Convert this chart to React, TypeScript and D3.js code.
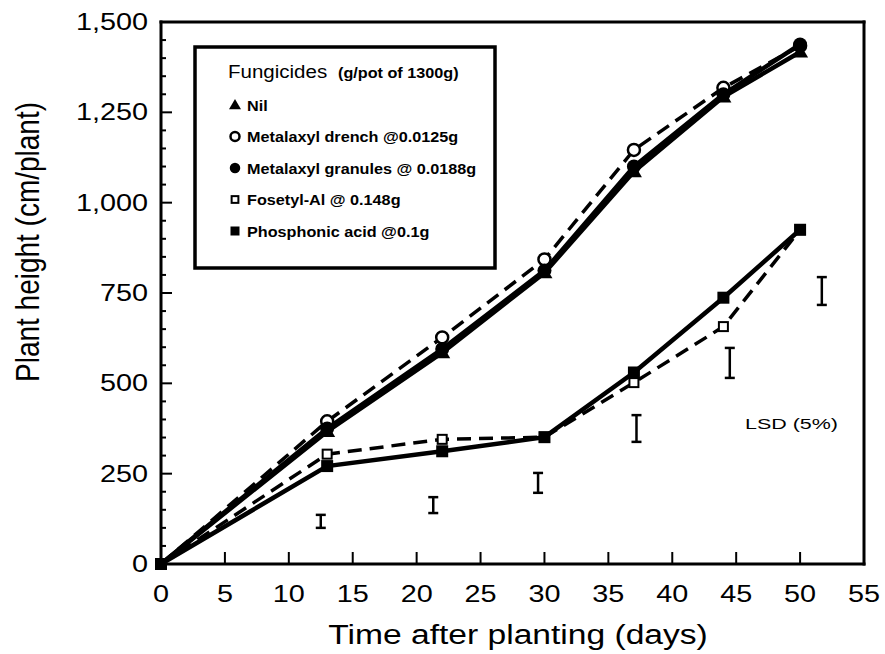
import React, { useRef, useEffect } from "react";
import * as d3 from "d3";

const WIDTH = 885;
const HEIGHT = 654;

const days = [0, 13, 22, 30, 37, 44, 50];
const nil = [0, 367, 585, 806, 1086, 1293, 1417];
const drench = [0, 395, 627, 843, 1146, 1318, 1434];
const granules = [0, 375, 595, 812, 1100, 1300, 1438];
const fosetyl = [0, 304, 345, 351, 502, 657, 925];
const phosphonic = [0, 271, 312, 351, 530, 737, 925];

const lsdDays = [12.5, 21.3, 29.5, 37.2, 44.5, 51.7];
const lsdLow = [100, 141, 197, 338, 515, 717];
const lsdHigh = [136, 185, 252, 412, 598, 794];

const xTicks = [0, 5, 10, 15, 20, 25, 30, 35, 40, 45, 50, 55];
const yTicks = [0, 250, 500, 750, 1000, 1250, 1500];

const series = [
  { name: "Nil", values: nil, dashed: false, marker: "triangle" },
  { name: "Metalaxyl drench @0.0125g", values: drench, dashed: true, marker: "openCircle" },
  { name: "Metalaxyl granules @ 0.0188g", values: granules, dashed: false, marker: "circle" },
  { name: "Fosetyl-Al @ 0.148g", values: fosetyl, dashed: true, marker: "openSquare" },
  { name: "Phosphonic acid @0.1g", values: phosphonic, dashed: false, marker: "square" },
];

const FONT = "'Liberation Sans', Arial, Helvetica, sans-serif";
// the scanned figure is a bit stretched sideways
const SX = 1.2;
const LSX = 1.08;

function drawMarker(g, type, x, y, scale = 1) {
  if (type === "triangle") {
    const s = 8 * scale;
    g.append("path")
      .attr("d", `M${x},${y - s}L${x + s},${y + s * 0.7}L${x - s},${y + s * 0.7}Z`)
      .attr("fill", "#000");
  } else if (type === "openCircle") {
    g.append("circle").attr("cx", x).attr("cy", y).attr("r", 6 * scale)
      .attr("fill", "#fff").attr("stroke", "#000").attr("stroke-width", 2.5);
  } else if (type === "circle") {
    g.append("circle").attr("cx", x).attr("cy", y).attr("r", 7 * scale).attr("fill", "#000");
  } else if (type === "openSquare") {
    const s = 4.5 * scale;
    g.append("rect").attr("x", x - s).attr("y", y - s).attr("width", 2 * s).attr("height", 2 * s)
      .attr("fill", "#fff").attr("stroke", "#000").attr("stroke-width", 2);
  } else {
    const s = 6 * scale;
    g.append("rect").attr("x", x - s).attr("y", y - s).attr("width", 2 * s).attr("height", 2 * s)
      .attr("fill", "#000");
  }
}

function Chart() {
  const svgRef = useRef(null);

  useEffect(() => {
    const svg = d3.select(svgRef.current);
    svg.selectAll("*").remove();

    const x = d3.scaleLinear().domain([0, 55]).range([161, 864]);
    const y = d3.scaleLinear().domain([0, 1500]).range([564, 22]);

    svg.append("rect").attr("width", WIDTH).attr("height", HEIGHT).attr("fill", "#fff");

    // x ticks (inside)
    svg.selectAll(".xt").data(xTicks).enter().append("line")
      .attr("x1", d => x(d)).attr("x2", d => x(d))
      .attr("y1", y(0)).attr("y2", y(0) - 12)
      .attr("stroke", "#000").attr("stroke-width", 2);
    svg.selectAll(".xl").data(xTicks).enter().append("text")
      .attr("transform", d => `translate(${x(d)},602) scale(${SX},1)`)
      .attr("text-anchor", "middle")
      .attr("font-family", FONT).attr("font-size", 24)
      .text(d => d);

    // y ticks: minor every 50, major every 250
    const yMinor = d3.range(0, 1501, 50);
    svg.selectAll(".yt").data(yMinor).enter().append("line")
      .attr("x1", x(0)).attr("x2", d => x(0) + (d % 250 === 0 ? 11 : 5))
      .attr("y1", d => y(d)).attr("y2", d => y(d))
      .attr("stroke", "#000").attr("stroke-width", 2);
    svg.selectAll(".yl").data(yTicks).enter().append("text")
      .attr("transform", d => `translate(148,${y(d) + 8}) scale(${SX},1)`)
      .attr("text-anchor", "end")
      .attr("font-family", FONT).attr("font-size", 24)
      .text(d => d3.format(",")(d));

    // axis titles
    svg.append("text")
      .attr("transform", `translate(518,644) scale(${SX},1)`)
      .attr("text-anchor", "middle")
      .attr("font-family", FONT).attr("font-size", 28)
      .text("Time after planting (days)");
    svg.append("text")
      .attr("transform", `translate(39,242) scale(${SX},1) rotate(-90)`)
      .attr("text-anchor", "middle")
      .attr("font-family", FONT).attr("font-size", 28)
      .text("Plant height (cm/plant)");

    // lines
    const line = d3.line().x((d, i) => x(days[i])).y(d => y(d));
    series.forEach(s => {
      svg.append("path")
        .attr("d", line(s.values))
        .attr("fill", "none")
        .attr("stroke", "#000")
        .attr("stroke-width", s.dashed ? 3.5 : 4.5)
        .attr("stroke-dasharray", s.dashed ? "14,8" : null);
    });
    const mg = svg.append("g");
    series.forEach(s => {
      s.values.forEach((v, i) => {
        if (i === 0) return;
        drawMarker(mg, s.marker, x(days[i]), y(v));
      });
    });
    mg.append("rect").attr("x", x(0) - 6).attr("y", y(0) - 6).attr("width", 12).attr("height", 12).attr("fill", "#000");

    // LSD bars
    lsdDays.forEach((d, i) => {
      const cx = x(d);
      const g = svg.append("g").attr("stroke", "#000").attr("stroke-width", 2.5);
      g.append("line").attr("x1", cx).attr("x2", cx).attr("y1", y(lsdLow[i])).attr("y2", y(lsdHigh[i]));
      g.append("line").attr("x1", cx - 5).attr("x2", cx + 5).attr("y1", y(lsdLow[i])).attr("y2", y(lsdLow[i]));
      g.append("line").attr("x1", cx - 5).attr("x2", cx + 5).attr("y1", y(lsdHigh[i])).attr("y2", y(lsdHigh[i]));
    });
    svg.append("text")
      .attr("x", 745).attr("y", 429)
      .attr("font-family", FONT).attr("font-size", 15)
      .attr("textLength", 93).attr("lengthAdjust", "spacingAndGlyphs")
      .text("LSD (5%)");

    // legend
    const lg = svg.append("g");
    lg.append("rect")
      .attr("x", 195).attr("y", 47).attr("width", 300).attr("height", 221)
      .attr("fill", "#fff").attr("stroke", "#000").attr("stroke-width", 3.5);
    const title = lg.append("text")
      .attr("transform", `translate(228,78) scale(${LSX},1)`)
      .attr("font-family", FONT);
    title.append("tspan").attr("font-size", 19).text("Fungicides");
    title.append("tspan").attr("font-size", 15).attr("font-weight", "bold").attr("dx", 10).text("(g/pot of 1300g)");
    series.forEach((s, i) => {
      const ly = 105 + i * 31.5;
      drawMarker(lg, s.marker, 235, ly, 0.75);
      lg.append("text")
        .attr("transform", `translate(247,${ly + 5.5}) scale(${LSX},1)`)
        .attr("font-family", FONT).attr("font-size", 15).attr("font-weight", "bold")
        .text(s.name);
    });

    // plot frame as filled bars, drawn last
    const fw = 3;
    const x0 = x(0), x1 = x(55), y0 = y(0), y1 = y(1500);
    const fr = svg.append("g").attr("fill", "#000");
    fr.append("rect").attr("x", x0 - fw / 2).attr("y", y1 - fw / 2).attr("width", x1 - x0 + fw).attr("height", fw);
    fr.append("rect").attr("x", x0 - fw / 2).attr("y", y0 - fw / 2).attr("width", x1 - x0 + fw).attr("height", fw);
    fr.append("rect").attr("x", x0 - fw / 2).attr("y", y1 - fw / 2).attr("width", fw).attr("height", y0 - y1 + fw);
    fr.append("rect").attr("x", x1 - fw / 2).attr("y", y1 - fw / 2).attr("width", fw).attr("height", y0 - y1 + fw);
  }, []);

  return <svg ref={svgRef} width={WIDTH} height={HEIGHT} style={{ position: "absolute", left: 0, top: 0 }}></svg>;
}

export default function App() {
  return <Chart />;
}
